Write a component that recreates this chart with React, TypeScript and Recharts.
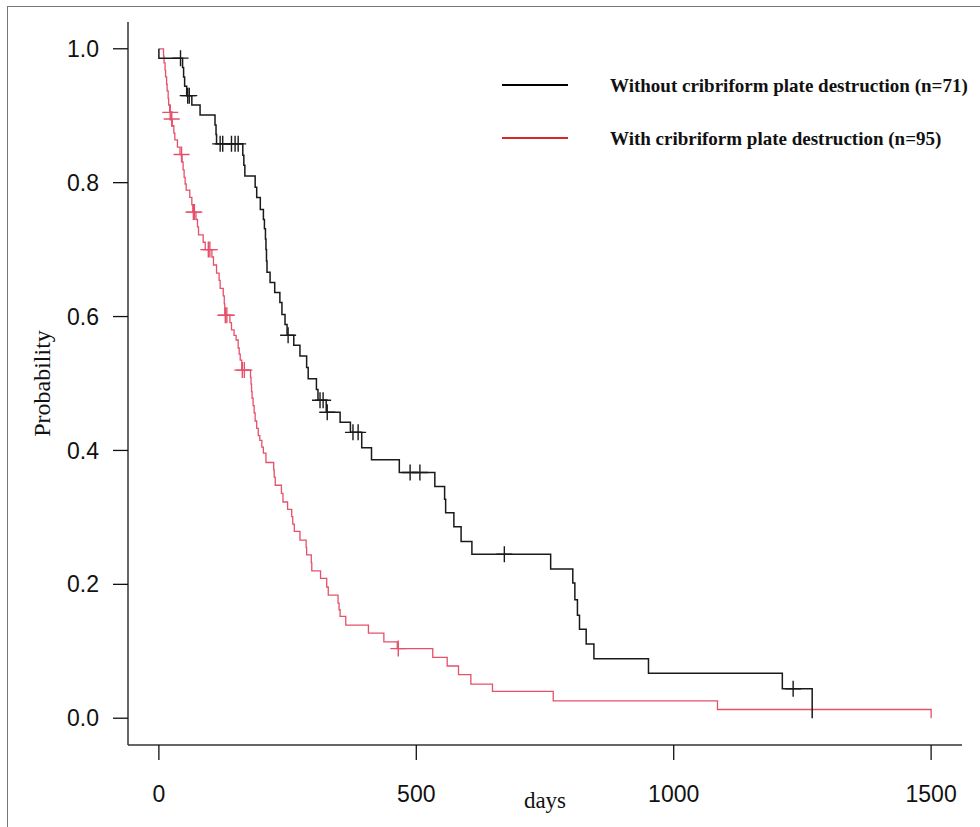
import { ComposedChart, Line, Scatter, XAxis, YAxis, Legend, Label } from "recharts";

const dayTicks = [0, 500, 1000, 1500];
const probTicks = [0, 0.2, 0.4, 0.6, 0.8, 1];

const seriesNames = [
  "Without cribriform plate destruction (n=71)",
  "With cribriform plate destruction (n=95)",
];
const seriesColors = ["#1a1a1a", "#e5506a"];
const legendColors = ["#000000", "#d42a2a"];

// Without cribriform plate destruction: event days and survival after each event
const withoutDays = [
  0, 0, 46, 48, 50, 54, 64, 80, 109, 111, 112, 163, 165, 167, 187, 190, 197, 203, 205, 207,
  208, 209, 210, 216, 225, 235, 239, 245, 249, 262, 274, 287, 290, 306, 309, 325, 352, 372,
  394, 413, 467, 536, 555, 557, 573, 587, 608, 761, 804, 808, 813, 817, 830, 845, 951, 1211, 1269,
];
const withoutSurv = [
  1, 0.986, 0.972, 0.958, 0.944, 0.93, 0.916, 0.901, 0.886, 0.872, 0.858, 0.841, 0.826, 0.81,
  0.793, 0.778, 0.76, 0.745, 0.731, 0.716, 0.7, 0.683, 0.666, 0.651, 0.636, 0.621, 0.603, 0.588,
  0.572, 0.557, 0.541, 0.524, 0.507, 0.491, 0.475, 0.457, 0.442, 0.427, 0.404, 0.386, 0.367,
  0.346, 0.327, 0.307, 0.286, 0.264, 0.245, 0.223, 0.202, 0.177, 0.154, 0.133, 0.111, 0.089,
  0.067, 0.044, 0,
];
const withoutCensored = [42, 56, 59, 119, 124, 141, 148, 154, 251, 313, 319, 327, 377, 387, 488, 507, 671, 1232];

// With cribriform plate destruction
const withDays = [
  0, 9, 10, 12, 13, 15, 16, 18, 19, 21, 24, 26, 29, 31, 36, 41, 45, 47, 49, 51, 53, 60, 64, 66,
  72, 75, 77, 86, 90, 103, 106, 112, 117, 119, 125, 127, 128, 138, 141, 146, 150, 154, 156, 158,
  161, 178, 179, 180, 181, 183, 185, 187, 190, 193, 196, 200, 203, 208, 223, 224, 226, 238, 241,
  250, 258, 260, 263, 274, 286, 287, 296, 297, 314, 326, 329, 348, 350, 352, 363, 407, 437, 463,
  532, 560, 582, 606, 648, 766, 1085, 1500,
];
const withSurv = [
  1, 0.989, 0.979, 0.968, 0.958, 0.947, 0.937, 0.926, 0.916, 0.905, 0.895, 0.885, 0.874, 0.864,
  0.853, 0.842, 0.831, 0.819, 0.808, 0.798, 0.789, 0.778, 0.767, 0.756, 0.745, 0.734, 0.722,
  0.711, 0.7, 0.689, 0.677, 0.665, 0.654, 0.642, 0.631, 0.619, 0.602, 0.591, 0.58, 0.572, 0.565,
  0.553, 0.544, 0.535, 0.52, 0.509, 0.499, 0.488, 0.478, 0.467, 0.456, 0.444, 0.433, 0.422,
  0.415, 0.405, 0.396, 0.382, 0.371, 0.36, 0.348, 0.336, 0.323, 0.312, 0.301, 0.29, 0.279, 0.266,
  0.255, 0.244, 0.232, 0.22, 0.209, 0.196, 0.184, 0.172, 0.162, 0.152, 0.139, 0.127, 0.114, 0.104,
  0.091, 0.078, 0.065, 0.051, 0.04, 0.026, 0.013, 0,
];
const withCensored = [22, 25, 44, 67, 69, 96, 99, 129, 132, 162, 166, 465];

function toSteps(days: number[], surv: number[]) {
  return days.map((t, i) => ({ t, s: surv[i] }));
}

// a censored case sits on the curve at the survival level in force on that day
function censorPoints(censored: number[], days: number[], surv: number[]) {
  return censored.map((t) => {
    let s = surv[0];
    for (let i = 0; i < days.length; i++) if (days[i] <= t) s = surv[i];
    return { t, s };
  });
}

const withoutSteps = toSteps(withoutDays, withoutSurv);
const withSteps = toSteps(withDays, withSurv);
const withoutMarks = censorPoints(withoutCensored, withoutDays, withoutSurv);
const withMarks = censorPoints(withCensored, withDays, withSurv);

const plus = (color: string) => (p: any) => {
  const { cx, cy } = p;
  return (
    <path
      d={`M${cx - 8},${cy}H${cx + 8}M${cx},${cy - 8}V${cy + 8}`}
      stroke={color}
      strokeWidth={1.4}
      fill="none"
    />
  );
};

const renderLegend = () => (
  <svg width={490} height={110}>
    {seriesNames.map((name, i) => (
      <g key={name}>
        <line x1={7} x2={73} y1={25 + i * 53} y2={25 + i * 53} stroke={legendColors[i]} strokeWidth={2} />
        <text
          x={115}
          y={25 + i * 53}
          dy="0.35em"
          fontFamily="'Liberation Serif', 'Times New Roman', serif"
          fontWeight="bold"
          fontSize={19}
          fill="#111"
        >
          {name}
        </text>
      </g>
    ))}
  </svg>
);

const tickFont = { fill: "#111", fontSize: 23, fontFamily: "'Liberation Sans', Arial, sans-serif" };
const titleFont = "'Liberation Serif', 'Times New Roman', serif";

export default function App() {
  return (
    <div style={{ position: "absolute", left: 0, top: 0, width: 980, height: 827, background: "#fff", overflow: "hidden" }}>
      <div
        style={{
          position: "absolute",
          left: 7,
          top: 6,
          width: 1000,
          height: 900,
          borderLeft: "1.5px solid #777",
          borderTop: "1.5px solid #777",
        }}
      />
      <ComposedChart width={980} height={827} margin={{ top: 22, right: 18, bottom: 0, left: 8 }}>
        <XAxis
          type="number"
          dataKey="t"
          domain={[-60, 1560]}
          ticks={dayTicks}
          allowDataOverflow
          height={82}
          tickSize={15}
          tickMargin={26}
          tick={tickFont}
          axisLine={{ stroke: "#333", strokeWidth: 1.5 }}
          tickLine={{ stroke: "#111", strokeWidth: 1.3 }}
        >
          <Label
            content={({ viewBox }: any) => (
              <text
                x={viewBox.x + viewBox.width / 2}
                y={808}
                textAnchor="middle"
                fontFamily={titleFont}
                fontSize={23}
                fill="#111"
              >
                days
              </text>
            )}
          />
        </XAxis>
        <YAxis
          type="number"
          dataKey="s"
          domain={[-0.04, 1.04]}
          ticks={probTicks}
          allowDataOverflow
          width={120}
          tickSize={15}
          tickMargin={14}
          tick={tickFont}
          tickFormatter={(v: number) => v.toFixed(1)}
          axisLine={{ stroke: "#333", strokeWidth: 1.5 }}
          tickLine={{ stroke: "#111", strokeWidth: 1.3 }}
        >
          <Label
            content={({ viewBox }: any) => (
              <text
                x={42}
                y={viewBox.y + viewBox.height / 2}
                transform={`rotate(-90, 42, ${viewBox.y + viewBox.height / 2})`}
                textAnchor="middle"
                dy="0.35em"
                fontFamily={titleFont}
                fontSize={24}
                fill="#111"
              >
                Probability
              </text>
            )}
          />
        </YAxis>
        <Legend
          content={renderLegend}
          layout="horizontal"
          verticalAlign="middle"
          align="center"
          wrapperStyle={{ left: 495, top: 60, width: 490, height: 110 }}
        />
        <Line
          data={withSteps}
          dataKey="s"
          type="stepAfter"
          stroke={seriesColors[1]}
          strokeWidth={1.3}
          dot={false}
          isAnimationActive={false}
        />
        <Line
          data={withoutSteps}
          dataKey="s"
          type="stepAfter"
          stroke={seriesColors[0]}
          strokeWidth={1.5}
          dot={false}
          isAnimationActive={false}
        />
        <Scatter data={withMarks} dataKey="s" shape={plus(seriesColors[1])} isAnimationActive={false} />
        <Scatter data={withoutMarks} dataKey="s" shape={plus(seriesColors[0])} isAnimationActive={false} />
      </ComposedChart>
    </div>
  );
}
